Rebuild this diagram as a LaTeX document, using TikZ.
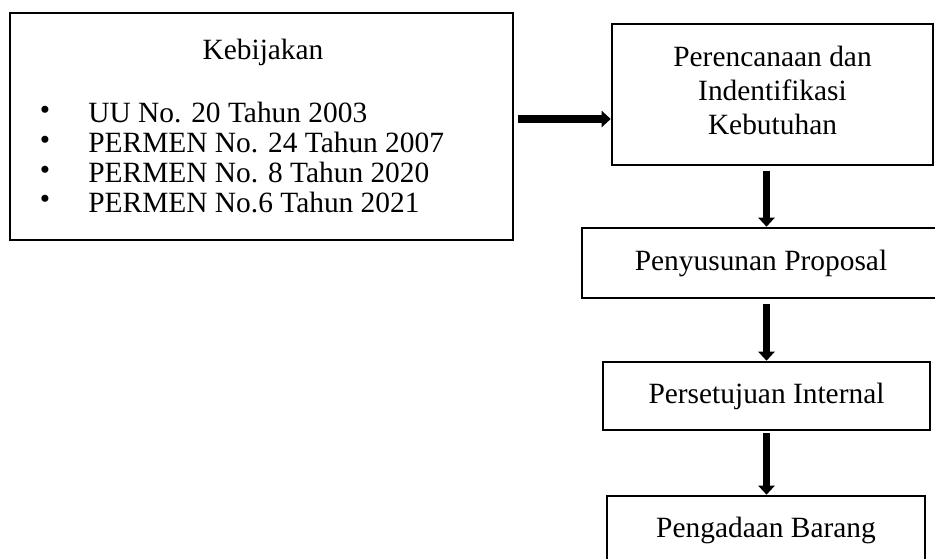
\documentclass[tikz,border=0pt]{standalone}
\usepackage{fontspec}
\setmainfont{Liberation Serif}
\usetikzlibrary{positioning, arrows.meta}

\begin{document}
\begin{tikzpicture}[x=0.5pt, y=-0.5pt, font=\fontsize{14.7}{16.8}\selectfont]
    \tikzset{
      box/.style={draw, line width=1.3pt, inner sep=0pt, align=center},
      flow/.style={-{Triangle[length=4.5pt, width=8pt]}, line width=3.8pt},
    }
    \useasboundingbox (0,0) rectangle (935,558);
    % kebijakan
    \node[box, minimum width=251.5pt, minimum height=113.5pt] (kebijakan) at (261.5,126.5) {};
    \node (judul) at (263,52) {Kebijakan};
    \foreach \i/\teks in {0/UU No. 20 Tahun 2003, 1/PERMEN No. 24 Tahun 2007,
                          2/PERMEN No. 8 Tahun 2020, 3/PERMEN No.6 Tahun 2021} {
      \node (titik\i) at (45,{113+29.7*\i}) {\textbullet};
      \node[anchor=west, inner sep=0pt] (poin\i) at (88,{113+29.7*\i}) {\teks};
    }
    % alur
    \node[box, minimum width=160.5pt, minimum height=70.5pt] (rencana) at (772.5,94.5)
      {Perencanaan dan\\Indentifikasi\\Kebutuhan\\[-12.5pt]};
    \node[box, minimum width=179pt, minimum height=35pt] (proposal) at (761,263) {Penyusunan Proposal};
    \node[box, minimum width=163.5pt, minimum height=34pt] (persetujuan) at (766.5,396) {Persetujuan Internal};
    \node[box, minimum width=159pt, minimum height=34pt] (pengadaan) at (766,530) {Pengadaan Barang};
    \coordinate (kiri) at (513,119);
    \draw[flow, shorten <=2.5pt] (kiri) -- (kiri -| rencana.west);
    \draw[flow, shorten <=2.5pt] (rencana.south -| persetujuan.north) -- (proposal.north -| persetujuan.north);
    \draw[flow, shorten <=2.5pt] (proposal.south -| persetujuan.north) -- (persetujuan.north);
    \draw[flow, shorten <=1pt] (persetujuan.south) -- (pengadaan.north -| persetujuan.south);
\end{tikzpicture}
\end{document}
